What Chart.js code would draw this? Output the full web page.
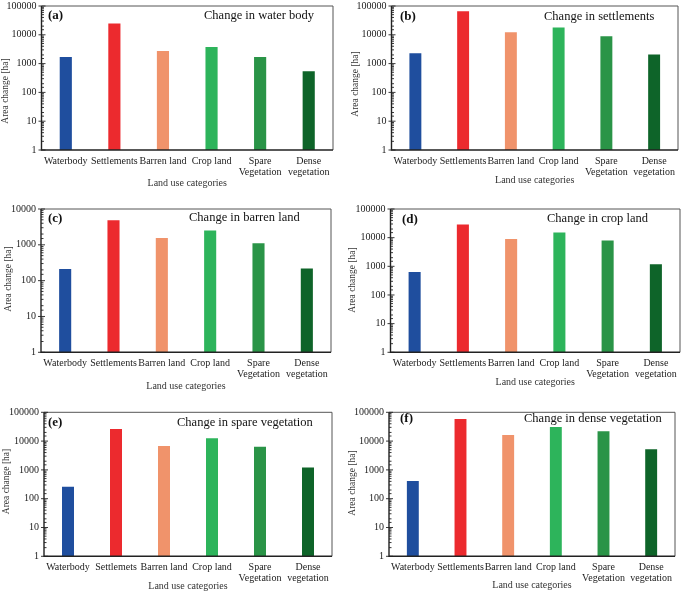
<!DOCTYPE html>
<html>
<head>
<meta charset="utf-8">
<script src="https://cdn.jsdelivr.net/npm/chart.js@4/dist/chart.umd.min.js"></script>
<style>
  body { margin: 0; background: #fff; }
  #wrap { position: relative; width: 685px; height: 592px; }
  canvas { position: absolute; }
</style>
</head>
<body>
<div id="wrap">
  <canvas id="pa" width="342" height="197" style="left:0;top:0"></canvas>
  <canvas id="pb" width="343" height="197" style="left:342px;top:0"></canvas>
  <canvas id="pc" width="342" height="200" style="left:0;top:197px"></canvas>
  <canvas id="pd" width="343" height="200" style="left:342px;top:197px"></canvas>
  <canvas id="pe" width="342" height="195" style="left:0;top:397px"></canvas>
  <canvas id="pf" width="343" height="195" style="left:342px;top:397px"></canvas>
</div>
<script>
// categories (panel e has the original typo)
const categories = ['Waterbody', 'Settlements', 'Barren land', 'Crop land', ['Spare', 'Vegetation'], ['Dense', 'vegetation']];
const categoriesE = ['Waterbody', 'Settlemets', 'Barren land', 'Crop land', ['Spare', 'Vegetation'], ['Dense', 'vegetation']];

// area change [ha] per panel
const waterBody = [1700, 24500, 2750, 3770, 1700, 540];
const settlements = [2280, 65500, 12200, 17800, 8900, 2050];
const barrenLand = [212, 4870, 1560, 2500, 1100, 217];
const cropLand = [630, 29000, 8900, 15200, 7950, 1190];
const spareVegetation = [260, 26300, 6750, 12500, 6400, 1200];
const denseVegetation = [410, 59000, 16300, 31000, 21900, 5200];

// y tick labels
const ticksFive = [1, 10, 100, 1000, 10000, 100000];
const ticksFour = [1, 10, 100, 1000, 10000];

const barColors = ['#1f4e9e', '#ec2a2e', '#f0936b', '#2db45b', '#2a9447', '#0e6429'];
const FONT = "'Liberation Serif', 'Times New Roman', serif";

// panel layout (canvas-local px)
const panels = [
  { id: 'pa', letter: '(a)', title: 'Change in water body', cats: categories, data: waterBody, ticks: ticksFive,
    pad: { top: 6, right: 9, bottom: 8.5 }, yW: 41.5, xH: 38.5, letterPos: [48, 16], titlePos: [204, 16], yTitlePos: [5.5, 91] },
  { id: 'pb', letter: '(b)', title: 'Change in settlements', cats: categories, data: settlements, ticks: ticksFive,
    pad: { top: 6, right: 7, bottom: 11.5 }, yW: 49.5, xH: 35.5, letterPos: [58, 17], titlePos: [202, 16.7], yTitlePos: [13, 84] },
  { id: 'pc', letter: '(c)', title: 'Change in barren land', cats: categories, data: barrenLand, ticks: ticksFour,
    pad: { top: 12, right: 11, bottom: 4.8 }, yW: 41, xH: 39.9, letterPos: [48, 21.3], titlePos: [189, 20.7], yTitlePos: [8.3, 82] },
  { id: 'pd', letter: '(d)', title: 'Change in crop land', cats: categories, data: cropLand, ticks: ticksFive,
    pad: { top: 12, right: 5, bottom: 8.8 }, yW: 48.5, xH: 35.9, letterPos: [60, 23], titlePos: [205, 21.3], yTitlePos: [10, 83] },
  { id: 'pe', letter: '(e)', title: 'Change in spare vegetation', cats: categoriesE, data: spareVegetation, ticks: ticksFive,
    pad: { top: 15.3, right: 10, bottom: 0.5 }, yW: 44, xH: 35.2, letterPos: [48, 25.3], titlePos: [177, 25.3], yTitlePos: [6, 84.5] },
  { id: 'pf', letter: '(f)', title: 'Change in dense vegetation', cats: categories, data: denseVegetation, ticks: ticksFive,
    pad: { top: 15.3, right: 10, bottom: 1.5 }, yW: 47, xH: 34.2, letterPos: [58, 22], titlePos: [182, 22], yTitlePos: [10.7, 86] }
];

// frame, log ticks and panel texts
const panelDecor = {
  id: 'panelDecor',
  afterDraw(chart, args, opts) {
    const { ctx, chartArea: a } = chart;
    const ys = chart.scales.y;
    ctx.save();
    // top/right frame
    ctx.strokeStyle = '#555';
    ctx.lineWidth = 1;
    ctx.beginPath();
    ctx.moveTo(a.left, a.top); ctx.lineTo(a.right, a.top); ctx.lineTo(a.right, a.bottom);
    ctx.stroke();
    // left/bottom axis
    ctx.strokeStyle = '#222';
    ctx.lineWidth = 1.4;
    ctx.beginPath();
    ctx.moveTo(a.left, a.top); ctx.lineTo(a.left, a.bottom); ctx.lineTo(a.right, a.bottom);
    ctx.stroke();
    // tick marks
    ctx.lineWidth = 0.9;
    ys.ticks.forEach(t => {
      const py = ys.getPixelForValue(t.value);
      const major = opts.major.includes(t.value);
      ctx.beginPath();
      ctx.moveTo(a.left - (major ? 3 : 0), py);
      ctx.lineTo(a.left + (major ? 4 : 2.5), py);
      ctx.stroke();
    });
    // letter and title
    ctx.fillStyle = '#111';
    ctx.textBaseline = 'middle';
    ctx.textAlign = 'left';
    ctx.font = 'bold 13px ' + FONT;
    ctx.fillText(opts.letter, opts.letterPos[0], opts.letterPos[1]);
    ctx.font = '12.5px ' + FONT;
    ctx.fillText(opts.title, opts.titlePos[0], opts.titlePos[1]);
    // y title
    ctx.translate(opts.yTitlePos[0], opts.yTitlePos[1]);
    ctx.rotate(-Math.PI / 2);
    ctx.textAlign = 'center';
    ctx.font = '9.5px ' + FONT;
    ctx.fillStyle = '#333';
    ctx.fillText('Area change [ha]', 0, 0);
    ctx.restore();
  }
};

panels.forEach(p => {
  new Chart(document.getElementById(p.id), {
    type: 'bar',
    data: {
      labels: p.cats,
      datasets: [{
        data: p.data,
        backgroundColor: barColors,
        barPercentage: 0.25,
        categoryPercentage: 1
      }]
    },
    options: {
      responsive: false,
      animation: false,
      layout: { padding: { left: 0, top: p.pad.top, right: p.pad.right, bottom: p.pad.bottom } },
      plugins: {
        legend: { display: false },
        tooltip: { enabled: false },
        panelDecor: { letter: p.letter, title: p.title, major: p.ticks,
          letterPos: p.letterPos, titlePos: p.titlePos, yTitlePos: p.yTitlePos }
      },
      scales: {
        x: {
          grid: { display: false, drawTicks: false },
          border: { display: false },
          ticks: { color: '#222', padding: 6, maxRotation: 0, autoSkip: false,
            font: { family: FONT, size: 10, lineHeight: 1.1 } },
          title: { display: true, text: 'Land use categories', color: '#333', padding: 0,
            font: { family: FONT, size: 10, lineHeight: 1.1 } },
          afterFit(scale) {
            scale.height = p.xH;
            scale.paddingLeft = 0;
            scale.paddingRight = 0;
          }
        },
        y: {
          type: 'logarithmic',
          min: 1,
          max: p.ticks[p.ticks.length - 1],
          grid: { display: false, drawTicks: false },
          border: { display: false },
          ticks: {
            color: '#222', padding: 5, autoSkip: false,
            font: { family: FONT, size: 10 },
            callback: v => p.ticks.includes(v) ? String(v) : ''
          },
          afterFit(scale) {
            scale.width = p.yW;
            scale.paddingTop = 0;
            scale.paddingBottom = 0;
          }
        }
      }
    },
    plugins: [panelDecor]
  });
});
</script>
</body>
</html>
